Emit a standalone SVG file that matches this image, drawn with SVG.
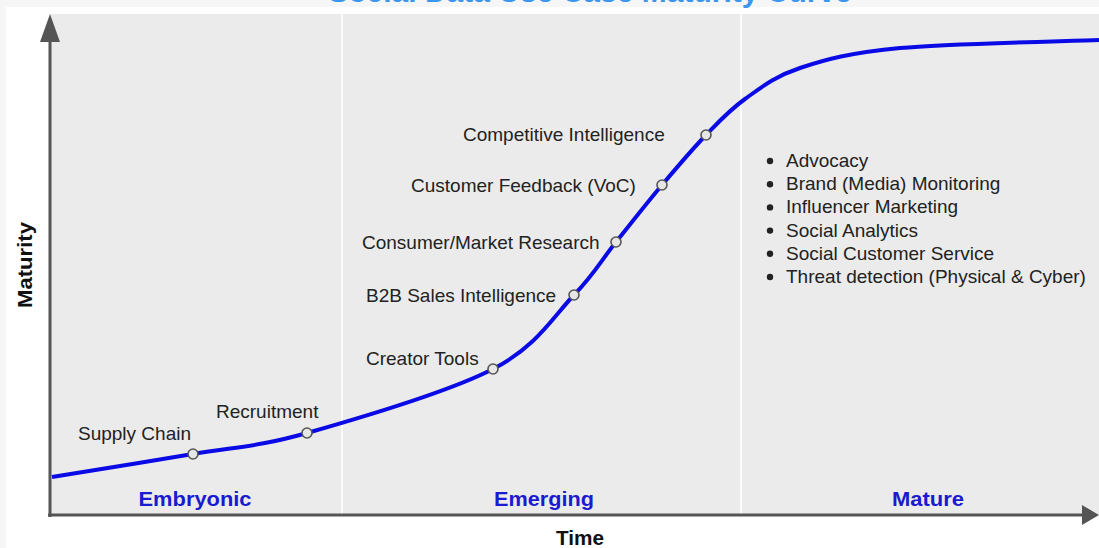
<svg xmlns="http://www.w3.org/2000/svg" width="1099" height="548" viewBox="0 0 1099 548">
  <style>
    .lbl { font-family: "Liberation Sans", Arial, sans-serif; font-size: 19px; fill: #222; }
    .stage { font-family: "Liberation Sans", Arial, sans-serif; font-size: 21px; font-weight: bold; fill: #1a1ad0; text-anchor: middle; }
    .axis-title { font-family: "Liberation Sans", Arial, sans-serif; font-size: 20px; font-weight: bold; fill: #111; text-anchor: middle; }
    .axis { stroke: #555; stroke-width: 3; fill: none; }
    .divider { stroke: #fafafa; stroke-width: 2; }
    .pt { fill: #e6e6e6; stroke: #555; stroke-width: 1.6; }
  </style>

  <!-- page background -->
  <rect x="0" y="0" width="1099" height="548" fill="#f6f6f6"/>
  <rect x="6" y="7" width="1093" height="541" fill="#ffffff"/>

  <!-- title (runs off the top edge) -->
  <text x="590" y="1.5" text-anchor="middle" font-family="Liberation Sans, Arial, sans-serif" font-size="30" font-weight="bold" fill="#3a96ee">Social Data Use Case Maturity Curve</text>

  <!-- chart panel -->
  <rect x="50" y="14" width="1049" height="501" fill="#ebebeb"/>
  <g id="dividers">
    <line class="divider" x1="342" y1="14" x2="342" y2="514"/>
    <line class="divider" x1="741" y1="14" x2="741" y2="514"/>
  </g>

  <!-- axes -->
  <g id="axes">
    <line class="axis" x1="50" y1="517" x2="50" y2="38"/>
    <polygon points="50,14 40,42 60,42" fill="#555"/>
    <line class="axis" x1="48" y1="515" x2="1085" y2="515"/>
    <polygon points="1099,515 1082,505 1082,525" fill="#555"/>
    <text class="axis-title" x="580" y="545" textLength="48" lengthAdjust="spacingAndGlyphs">Time</text>
    <text class="axis-title" x="0" y="0" transform="translate(32,265) rotate(-90)" textLength="86" lengthAdjust="spacingAndGlyphs">Maturity</text>
  </g>

  <!-- stages -->
  <g id="stages">
    <text class="stage" x="195" y="506" textLength="113" lengthAdjust="spacingAndGlyphs">Embryonic</text>
    <text class="stage" x="544" y="506" textLength="100" lengthAdjust="spacingAndGlyphs">Emerging</text>
    <text class="stage" x="928" y="506" textLength="72" lengthAdjust="spacingAndGlyphs">Mature</text>
  </g>

  <!-- maturity curve -->
  <g id="connectors">
    <path d="M52,477 C75.5,473.2 150.5,461.3 193,454 C235.5,446.7 257,447.2 307,433 C357,418.8 448.5,392 493,369 C537.5,346 553.5,316.2 574,295 C594.5,273.8 601.3,260.3 616,242 C630.7,223.7 647,202.8 662,185 C677,167.2 692.2,149.3 706,135 C719.8,120.7 729.3,110.2 745,99 C760.7,87.8 774.2,76.5 800,68 C825.8,59.5 850.2,52.7 900,48 C949.8,43.3 1065.8,41.3 1099,40" fill="none" stroke="#0a0ae6" stroke-width="4"/>
  </g>

  <!-- use cases along the curve -->
  <g id="supply-chain">
    <circle class="pt" cx="193" cy="454" r="5"/>
    <text class="lbl" x="78" y="440">Supply Chain</text>
  </g>
  <g id="recruitment">
    <circle class="pt" cx="307" cy="433" r="5"/>
    <text class="lbl" x="216" y="418">Recruitment</text>
  </g>
  <g id="creator-tools">
    <circle class="pt" cx="493" cy="369" r="5"/>
    <text class="lbl" x="366" y="365">Creator Tools</text>
  </g>
  <g id="b2b-sales">
    <circle class="pt" cx="574" cy="295" r="5"/>
    <text class="lbl" x="366" y="302">B2B Sales Intelligence</text>
  </g>
  <g id="consumer-research">
    <circle class="pt" cx="616" cy="242" r="5"/>
    <text class="lbl" x="362" y="249">Consumer/Market Research</text>
  </g>
  <g id="customer-feedback">
    <circle class="pt" cx="662" cy="185" r="5"/>
    <text class="lbl" x="411" y="192">Customer Feedback (VoC)</text>
  </g>
  <g id="competitive-intel">
    <circle class="pt" cx="706" cy="135" r="5"/>
    <text class="lbl" x="463" y="141">Competitive Intelligence</text>
  </g>

  <!-- mature use cases -->
  <g id="mature-list">
    <g fill="#222">
      <circle cx="770" cy="161" r="3.2"/>
      <circle cx="770" cy="184.2" r="3.2"/>
      <circle cx="770" cy="207.4" r="3.2"/>
      <circle cx="770" cy="230.6" r="3.2"/>
      <circle cx="770" cy="253.8" r="3.2"/>
      <circle cx="770" cy="277" r="3.2"/>
    </g>
    <text class="lbl" x="786" y="167">Advocacy</text>
    <text class="lbl" x="786" y="190.2">Brand (Media) Monitoring</text>
    <text class="lbl" x="786" y="213.4">Influencer Marketing</text>
    <text class="lbl" x="786" y="236.6">Social Analytics</text>
    <text class="lbl" x="786" y="259.8">Social Customer Service</text>
    <text class="lbl" x="786" y="283">Threat detection (Physical &amp; Cyber)</text>
  </g>
</svg>
